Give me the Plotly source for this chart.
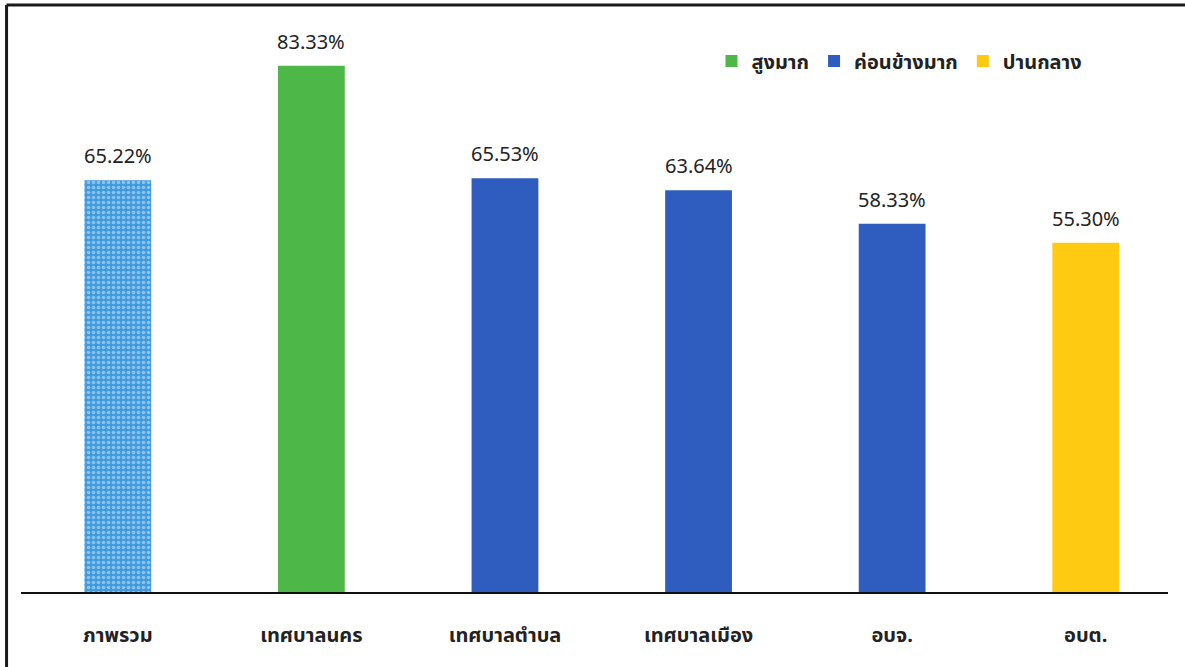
import plotly.graph_objects as go

categories = ["ภาพรวม", "เทศบาลนคร", "เทศบาลตำบล", "เทศบาลเมือง", "อบจ.", "อบต."]
values = [65.22, 83.33, 65.53, 63.64, 58.33, 55.30]
levels = ["รวม", "สูงมาก", "ค่อนข้างมาก", "ค่อนข้างมาก", "ค่อนข้างมาก", "ปานกลาง"]
legend_levels = ["สูงมาก", "ค่อนข้างมาก", "ปานกลาง"]
level_colors = {"สูงมาก": "#4db848", "ค่อนข้างมาก": "#2e5dbf", "ปานกลาง": "#ffcb12"}

FONT = "Noto Sans Thai, Tahoma, Noto Sans, sans-serif"

fig = go.Figure()

# overall (patterned) bar
ov_x = [c for c, l in zip(categories, levels) if l == "รวม"]
ov_y = [v for v, l in zip(values, levels) if l == "รวม"]
fig.add_trace(go.Bar(
    x=ov_x, y=ov_y, width=0.345, showlegend=False,
    marker=dict(color="#3f9ade", line=dict(width=0),
                pattern=dict(shape=".", fgcolor="#d8ebf8", size=5, solidity=0.4)),
))

for lev in legend_levels:
    xs = [c for c, l in zip(categories, levels) if l == lev]
    ys = [v for v, l in zip(values, levels) if l == lev]
    fig.add_trace(go.Bar(
        x=xs, y=ys, width=0.345, name=lev,
        marker=dict(color=level_colors[lev], line=dict(width=0)),
    ))

for c, v in zip(categories, values):
    fig.add_annotation(x=c, y=v, text=f"{v:.2f}%", showarrow=False,
                       yanchor="bottom", yshift=6,
                       font=dict(size=20, color="#222222", family=FONT))

# outer frame (top and left edges)
fig.add_shape(type="line", xref="paper", yref="paper",
              x0=-0.0126, x1=1.02, y0=1.0445, y1=1.0445,
              line=dict(color="#1a1a1a", width=3))
fig.add_shape(type="line", xref="paper", yref="paper",
              x0=-0.0126, x1=-0.0126, y0=1.0445, y1=-0.14,
              line=dict(color="#1a1a1a", width=3))

fig.update_layout(
    width=1185, height=667,
    margin=dict(l=21, r=17, t=30, b=75),
    paper_bgcolor="white", plot_bgcolor="white",
    barmode="overlay",
    font=dict(family=FONT, color="#222222"),
    legend=dict(orientation="h", x=0.602, y=0.945, xanchor="left", yanchor="middle",
                font=dict(size=20, color="#222222", family=FONT, weight="bold"),
                itemwidth=30, tracegroupgap=0, bgcolor="rgba(0,0,0,0)"),
    xaxis=dict(categoryorder="array", categoryarray=categories,
               range=[-0.5, 5.425], showline=True, linecolor="#111111", linewidth=2,
               ticks="", showgrid=False, ticklabelstandoff=24,
               tickfont=dict(size=20, color="#222222", family=FONT, weight="bold")),
    yaxis=dict(range=[0, 89], visible=False, showgrid=False, zeroline=False),
)

fig.write_html("out.html", post_script="document.body.style.margin='0';",
               config={"displayModeBar": False})
